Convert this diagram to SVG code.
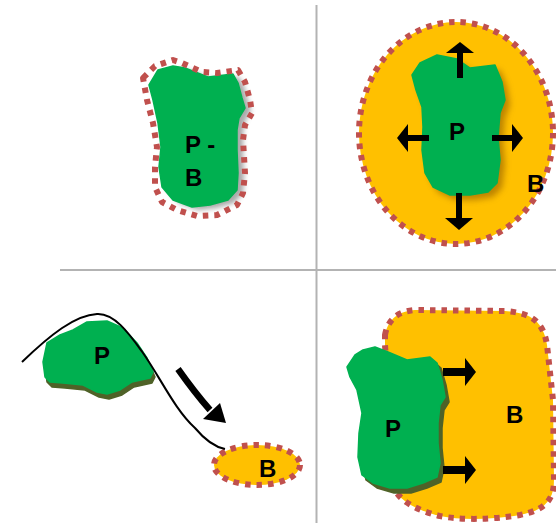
<svg xmlns="http://www.w3.org/2000/svg" width="556" height="523" viewBox="0 0 556 523">
<defs>
<filter id="grayShadow" x="-30%" y="-30%" width="160%" height="160%"><feGaussianBlur stdDeviation="2.5"/></filter>
<filter id="orangeShadow" x="-30%" y="-30%" width="160%" height="160%"><feGaussianBlur stdDeviation="3"/></filter>
</defs>
<style>
.div{stroke:#b3b3b3;stroke-width:2;fill:none}
.green{fill:#00b050;stroke:#00b050;stroke-width:1.5;stroke-linejoin:round}
.olive{fill:#4f6228;stroke:#4f6228;stroke-width:1.5;stroke-linejoin:round}
.dot{stroke:#c0504d;stroke-width:6;stroke-dasharray:5.5 6;stroke-linejoin:round}
.orange{fill:#ffc000}
.lbl{font-family:"Liberation Sans",Arial,sans-serif;font-weight:bold;font-size:24px;fill:#000}
.arr{fill:#000}
</style>
<g id="dividers">
<line class="div" x1="316.5" y1="5" x2="316.5" y2="523"/>
<line class="div" x1="60" y1="270" x2="556" y2="270"/>
</g>
<g id="node-pb">
<path d="M149,85 L158,70 L173,66 L185,68 L208,77 L233,74 L238,83 L242,98 L245,108 L239,118 L237,130 L237,150 L238,173 L237,190 L228,200 L210,205 L192,207 L173,200 L162,187 L159,167 L161,147 L158,123 L153,100 Z" fill="#8c8c8c" opacity="0.75" transform="translate(6,3)" filter="url(#grayShadow)"/>
<path class="green" d="M149,85 L158,70 L173,66 L185,68 L208,77 L233,74 L238,83 L242,98 L245,108 L239,118 L237,130 L237,150 L238,173 L237,190 L228,200 L210,205 L192,207 L173,200 L162,187 L159,167 L161,147 L158,123 L153,100 Z"/>
<path class="dot" fill="none" d="M143,78 L155,66 L173,60 L182,63 L202,72 L217,73 L238,70 L245,82 L250,100 L252,113 L245,125 L243,140 L245,173 L243,193 L237,205 L217,215 L197,216 L177,210 L162,202 L155,187 L155,167 L157,147 L153,123 L147,100 Z"/>
<text class="lbl" x="185" y="153">P -</text>
<text class="lbl" x="185" y="186">B</text>
</g>
<g id="node-b-circle">
<ellipse class="orange dot" cx="456" cy="133" rx="97" ry="111"/>
<text class="lbl" x="527" y="192">B</text>
</g>
<g id="node-p-top">
<path d="M412,75 L420,63 L437,55 L457,59 L470,68 L495,65 L502,82 L505,100 L500,113 L498,137 L500,160 L497,183 L488,192 L470,195 L450,195 L433,187 L425,173 L422,150 L423,127 L422,107 L416,90 Z" fill="#a06a00" opacity="0.7" transform="translate(5,5)" filter="url(#orangeShadow)"/>
<path class="green" d="M412,75 L420,63 L437,55 L457,59 L470,68 L495,65 L502,82 L505,100 L500,113 L498,137 L500,160 L497,183 L488,192 L470,195 L450,195 L433,187 L425,173 L422,150 L423,127 L422,107 L416,90 Z"/>
<text class="lbl" x="449" y="140">P</text>
</g>
<g id="node-p-bl">
<path class="olive" transform="translate(2,5)" d="M43,362 L47,343 L60,335 L73,330 L87,322 L107,321 L123,328 L137,343 L147,358 L153,372 L150,378 L132,382 L120,390 L107,394 L97,392 L83,385 L63,383 L50,382 L45,377 Z"/>
<path class="green" d="M43,362 L47,343 L60,335 L73,330 L87,322 L107,321 L123,328 L137,343 L147,358 L153,372 L150,378 L132,382 L120,390 L107,394 L97,392 L83,385 L63,383 L50,382 L45,377 Z"/>
<text class="lbl" x="94" y="364">P</text>
</g>
<g id="node-b-small">
<ellipse class="orange dot" cx="257" cy="465" rx="43" ry="20"/>
<text class="lbl" x="259" y="477">B</text>
</g>
<g id="node-b-br">
<path class="orange dot" d="M385,335 C388,318 400,311 415,310 L505,311 C530,313 543,320 547,345 L553,400 L554,480 C554,500 545,510 520,515 C490,520 460,520 440,516 C415,510 400,500 395,490 L385,345 Z"/>
<text class="lbl" x="506" y="423">B</text>
</g>
<g id="node-p-br">
<path class="olive" transform="translate(4,5)" d="M347,367 L355,355 L363,350 L375,347 L388,352 L407,360 L430,357 L437,363 L442,380 L445,397 L440,405 L438,423 L438,443 L440,463 L437,477 L423,483 L407,488 L390,488 L373,483 L362,475 L358,457 L359,433 L362,413 L357,390 L350,377 Z"/>
<path class="green" d="M347,367 L355,355 L363,350 L375,347 L388,352 L407,360 L430,357 L437,363 L442,380 L445,397 L440,405 L438,423 L438,443 L440,463 L437,477 L423,483 L407,488 L390,488 L373,483 L362,475 L358,457 L359,433 L362,413 L357,390 L350,377 Z"/>
<text class="lbl" x="385" y="437">P</text>
</g>
<g id="connectors">
<path d="M22,362 C50,335 75,315 97,314 C115,313 130,335 143,353 C160,377 175,410 195,428 C205,440 215,447 225,449" fill="none" stroke="#000" stroke-width="2"/>
<path d="M178,369 Q195,393 210,410" fill="none" stroke="#000" stroke-width="6.5"/>
<polygon class="arr" points="203,419 220,403 226,423"/>
<rect class="arr" x="457" y="53" width="6" height="25"/>
<polygon class="arr" points="446,53 474,53 460,42"/>
<rect class="arr" x="456" y="193" width="6" height="25"/>
<polygon class="arr" points="445,218 473,218 459,230"/>
<rect class="arr" x="408" y="135" width="21" height="6"/>
<polygon class="arr" points="408,124 408,152 397,138"/>
<rect class="arr" x="492" y="135" width="20" height="6"/>
<polygon class="arr" points="512,124 512,152 523,138"/>
<rect class="arr" x="443" y="368" width="22" height="8"/>
<polygon class="arr" points="465,358 465,386 476,372"/>
<rect class="arr" x="443" y="466" width="22" height="8"/>
<polygon class="arr" points="465,456 465,484 476,470"/>
</g>
</svg>
